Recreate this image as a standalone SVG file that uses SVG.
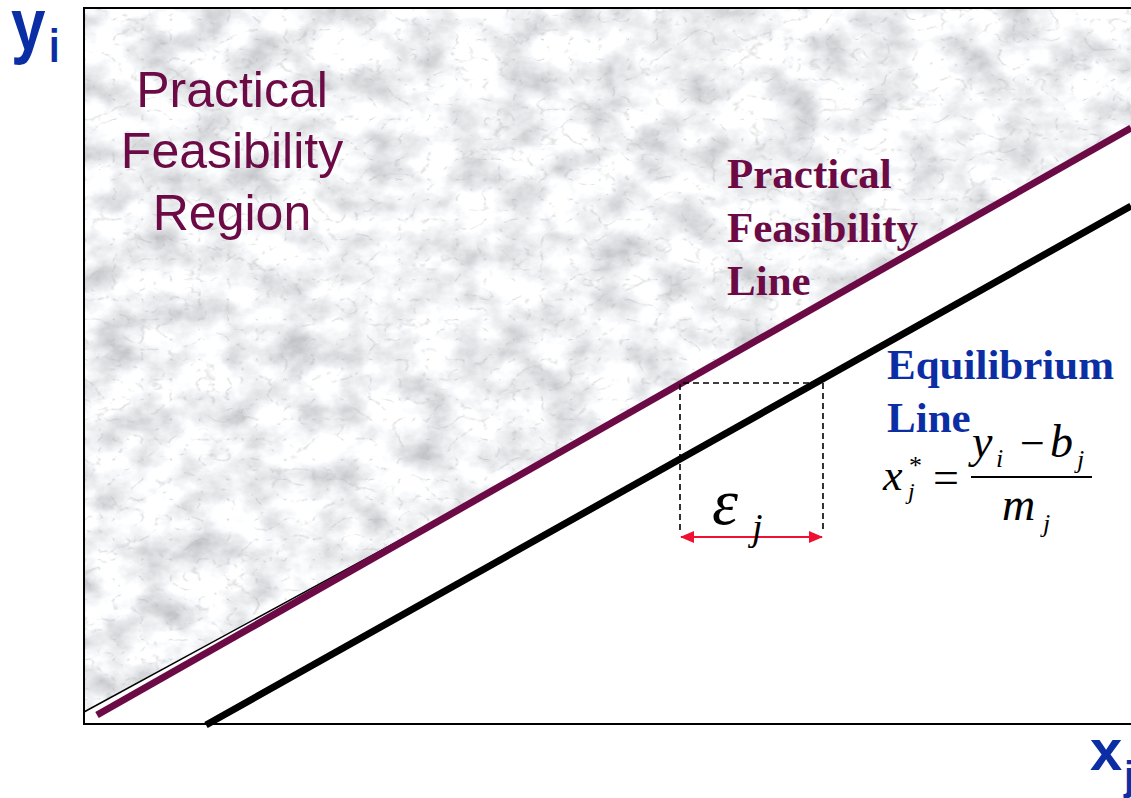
<svg xmlns="http://www.w3.org/2000/svg" width="1131" height="798" viewBox="0 0 1131 798">
<defs>
<style>
.ax{stroke:#000;stroke-width:2;fill:none}
.blue{fill:#0b2ea4}
.purp{fill:#6b0a45}
.sans{font-family:"Liberation Sans",Arial,sans-serif}
.serif{font-family:"Liberation Serif","Times New Roman",serif}
.math{font-family:"Liberation Serif","Times New Roman",serif;font-style:italic;fill:#000}
</style>
<filter id="marble" x="0" y="0" width="100%" height="100%" filterUnits="objectBoundingBox">
<feTurbulence type="fractalNoise" baseFrequency="0.022 0.03" numOctaves="5" seed="2" result="n1"/>
<feColorMatrix in="n1" type="matrix" values="0.9 0 0 0 0.44  0.9 0 0 0 0.45  0.9 0 0 0 0.47  0 0 0 0 1" result="clouds"/>
<feTurbulence type="turbulence" baseFrequency="0.035 0.05" numOctaves="3" seed="9" result="n2"/>
<feColorMatrix in="n2" type="matrix" values="0 0 0 0 0.45  0 0 0 0 0.46  0 0 0 0 0.48  -3.5 0 0 0 0.5" result="veins"/>
<feGaussianBlur in="veins" stdDeviation="0.5" result="vb"/>
<feComposite in="vb" in2="clouds" operator="over"/>
</filter>
<clipPath id="regionClip"><polygon points="84,8 1131,8 1131,127 600,431.5 84,712"/></clipPath>
<marker id="arrR" viewBox="0 0 14 12" refX="13" refY="6" markerWidth="14" markerHeight="12" markerUnits="userSpaceOnUse" orient="auto"><path d="M0,0 L14,6 L0,12 Z" fill="#ee1133"/></marker>
<marker id="arrL" viewBox="0 0 14 12" refX="1" refY="6" markerWidth="14" markerHeight="12" markerUnits="userSpaceOnUse" orient="auto"><path d="M14,0 L0,6 L14,12 Z" fill="#ee1133"/></marker>
</defs>
<rect width="1131" height="798" fill="#fff"/>
<g id="feasibility-region">
<g clip-path="url(#regionClip)"><rect x="84" y="8" width="1047" height="716" filter="url(#marble)"/></g>
<line x1="84" y1="712" x2="600" y2="431.5" stroke="#000" stroke-width="1.5"/>
</g>
<g id="connectors">
<line id="feasibility-line" x1="97" y1="715" x2="1131" y2="128" stroke="#6b0a45" stroke-width="7"/>
<line id="equilibrium-line" x1="206" y1="725" x2="1131" y2="206" stroke="#000" stroke-width="7"/>
<path id="epsilon-box" d="M680,530 V383 H823 V530" fill="none" stroke="#000" stroke-width="1.6" stroke-dasharray="6,4"/>
<line id="epsilon-arrow" x1="681" y1="537" x2="822" y2="537" stroke="#ee1133" stroke-width="2" marker-start="url(#arrL)" marker-end="url(#arrR)"/>
</g>
<g id="axes">
<path class="ax" d="M1131,8 H84 V724 H1131"/>
</g>
<g id="label-y">
<text class="sans blue" font-weight="bold" font-size="62" transform="translate(11,50) scale(1,1.2)">y</text>
<text class="sans blue" font-weight="bold" font-size="38" transform="translate(49,62) scale(1,1.2)">i</text>
</g>
<g id="label-x">
<text class="sans blue" font-weight="bold" font-size="58" x="1090" y="770">x</text>
<text class="sans blue" font-weight="bold" font-size="40" x="1124" y="790">j</text>
</g>
<g id="region-label" class="sans purp" font-size="50" text-anchor="middle">
<text x="232" y="107">Practical</text>
<text x="232" y="168">Feasibility</text>
<text x="232" y="230">Region</text>
</g>
<g id="feasibility-line-label" class="serif purp" font-size="43" font-weight="bold">
<text x="727" y="188">Practical</text>
<text x="727" y="242">Feasibility</text>
<text x="727" y="295">Line</text>
</g>
<g id="equilibrium-label" class="serif blue" font-size="43" font-weight="bold">
<text x="887" y="379">Equilibrium</text>
<text x="887" y="432">Line</text>
</g>
<g id="formula">
<text class="math" font-size="44" x="883" y="490">x</text>
<text class="serif" font-size="26" x="909" y="474">*</text>
<text class="math" font-size="24" x="908" y="499">j</text>
<text class="serif" font-size="46" x="933" y="493">=</text>
<line x1="971" y1="477" x2="1092" y2="477" stroke="#000" stroke-width="1.8"/>
<text class="math" font-size="46" x="972" y="457">y</text>
<text class="math" font-size="26" x="996" y="467">i</text>
<text class="serif" font-size="44" x="1020" y="458">−</text>
<text class="math" font-size="46" x="1050" y="457">b</text>
<text class="math" font-size="26" x="1077" y="468">j</text>
<text class="math" font-size="46" x="1002" y="520">m</text>
<text class="math" font-size="26" x="1043" y="532">j</text>
</g>
<g id="epsilon-label">
<text class="math" font-size="66" x="712" y="524">ε</text>
<text class="math" font-size="38" x="752" y="540">j</text>
</g>
</svg>
